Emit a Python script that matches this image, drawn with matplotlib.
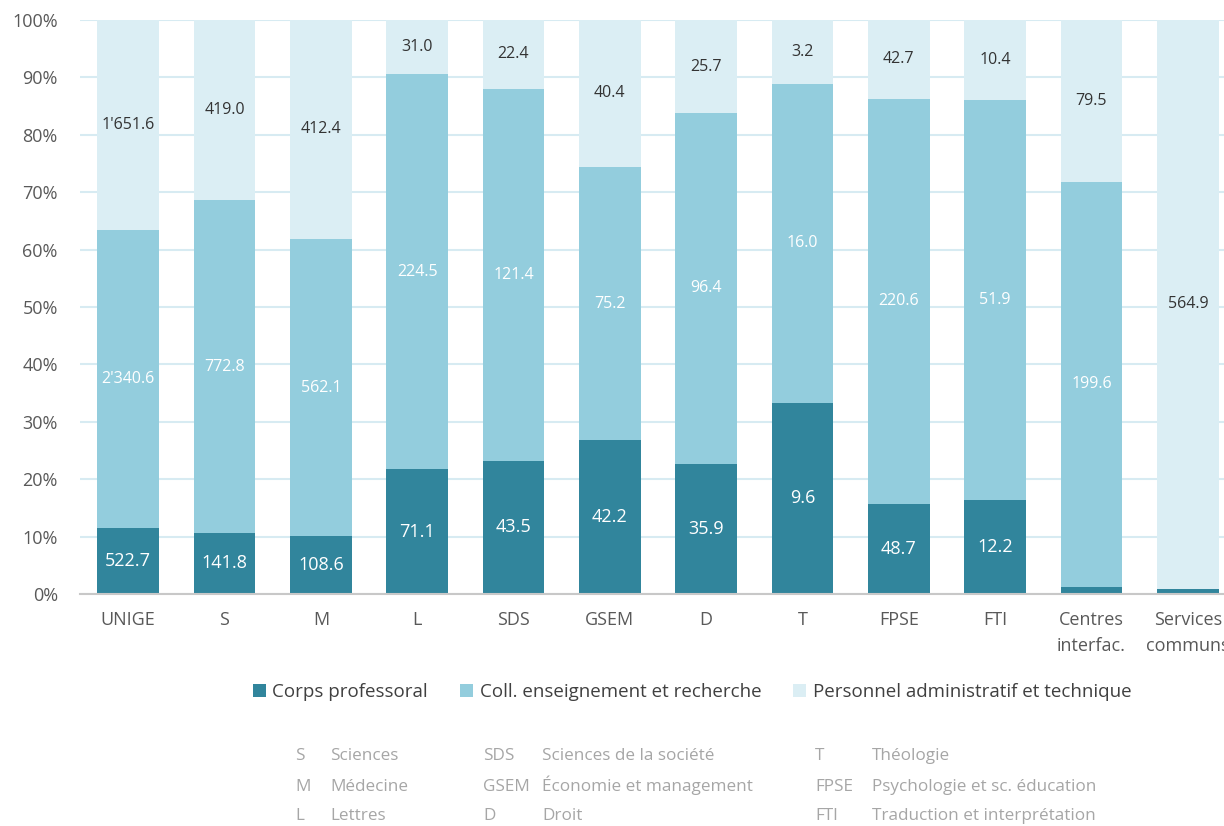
import numpy as np
import matplotlib
matplotlib.use("Agg")
import matplotlib.pyplot as plt

plt.rcParams['font.family'] = ['Open Sans', 'DejaVu Sans']

categories = ["UNIGE", "S", "M", "L", "SDS", "GSEM", "D", "T", "FPSE", "FTI",
              "Centres\ninterfac.", "Services\ncommuns"]
corps = [522.7, 141.8, 108.6, 71.1, 43.5, 42.2, 35.9, 9.6, 48.7, 12.2, 3.4, 5.2]
coll = [2340.6, 772.8, 562.1, 224.5, 121.4, 75.2, 96.4, 16.0, 220.6, 51.9, 199.6, 0.0]
pat = [1651.6, 419.0, 412.4, 31.0, 22.4, 40.4, 25.7, 3.2, 42.7, 10.4, 79.5, 564.9]
show_corps = [True] * 10 + [False, False]
show_coll = [True] * 11 + [False]

series_names = ["Corps professoral", "Coll. enseignement et recherche",
                "Personnel administratif et technique"]
colors = ["#31859c", "#93cddd", "#dbeef4"]

abbrevs = [
    [("S", "Sciences"), ("M", "Médecine"), ("L", "Lettres")],
    [("SDS", "Sciences de la société"), ("GSEM", "Économie et management"), ("D", "Droit")],
    [("T", "Théologie"), ("FPSE", "Psychologie et sc. éducation"), ("FTI", "Traduction et interprétation")],
]


def fmt(v):
    return f"{v:,.1f}".replace(",", "'")


W, H = 1224, 826
fig = plt.figure(figsize=(W / 100, H / 100), dpi=100)
ax = fig.add_axes([80 / W, 1 - 594 / H, 1156 / W, 574 / H])

corps = np.array(corps)
coll = np.array(coll)
pat = np.array(pat)
tot = corps + coll + pat
p1 = corps / tot * 100
p2 = coll / tot * 100
p3 = pat / tot * 100
x = np.arange(len(categories))
bw = 0.64

ax.bar(x, p1, bw, color=colors[0], label=series_names[0], zorder=3)
ax.bar(x, p2, bw, bottom=p1, color=colors[1], label=series_names[1], zorder=3)
ax.bar(x, p3, bw, bottom=p1 + p2, color=colors[2], label=series_names[2], zorder=3)

for i in range(len(x)):
    if show_corps[i]:
        ax.text(x[i], p1[i] / 2, fmt(corps[i]), ha="center", va="center",
                color="white", fontsize=13, zorder=4)
    if show_coll[i]:
        ax.text(x[i], p1[i] + p2[i] / 2, fmt(coll[i]), ha="center", va="center",
                color="white", fontsize=11.5, zorder=4)
    ax.text(x[i], p1[i] + p2[i] + p3[i] / 2, fmt(pat[i]), ha="center", va="center",
            color="#333333", fontsize=11.5, zorder=4)

ax.set_xlim(-0.5, len(x) - 0.5)
ax.set_ylim(0, 100)
ax.set_yticks(np.arange(0, 101, 10))
ax.set_yticklabels([f"{t}%" for t in range(0, 101, 10)])
ax.set_xticks(x)
ax.set_xticklabels(categories, linespacing=1.6)
ax.tick_params(axis="y", length=0, pad=16, labelsize=13, labelcolor="#595959")
ax.tick_params(axis="x", length=0, pad=12, labelsize=13, labelcolor="#595959")
ax.grid(axis="y", color="#d7ebf2", lw=1.5, zorder=0)
for s in ["top", "right", "left"]:
    ax.spines[s].set_visible(False)
ax.spines["bottom"].set_color("#c8c8c8")
ax.spines["bottom"].set_linewidth(1.5)
ax.spines["bottom"].set_zorder(5)

fig.legend(loc="center", bbox_to_anchor=(692 / W, 1 - 692 / H), ncol=3,
           frameon=False, fontsize=13.5, handlelength=0.7, handleheight=0.7,
           handletextpad=0.35, columnspacing=1.7, labelcolor="#404040")

col_x = [(295, 330), (483, 542), (815, 872)]
row_y = [760, 791, 820]
for (ax_abbr, ax_name), col in zip(col_x, abbrevs):
    for yy, (a, n) in zip(row_y, col):
        fig.text(ax_abbr / W, 1 - yy / H, a, ha="left", va="baseline",
                 fontsize=12.3, color="#a6a6a6")
        fig.text(ax_name / W, 1 - yy / H, n, ha="left", va="baseline",
                 fontsize=12.3, color="#a6a6a6")

fig.savefig("out.png", dpi=100)
